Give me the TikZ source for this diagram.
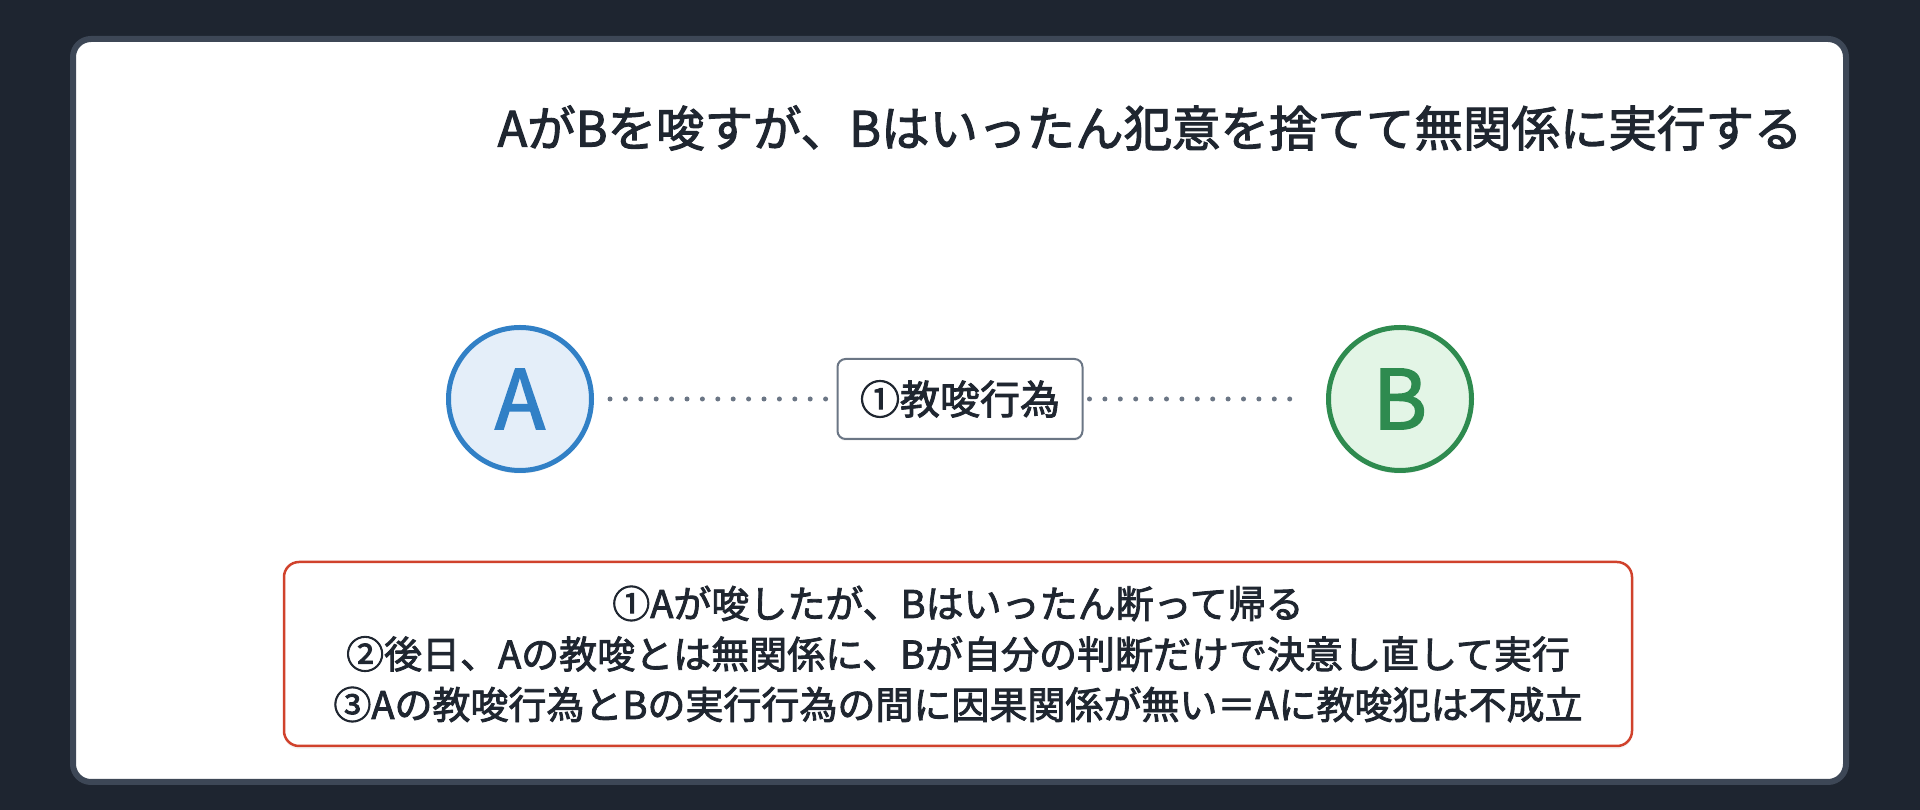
\documentclass[tikz,border=0pt]{standalone}
\usepackage{fontspec}
\setmainfont{Noto Sans CJK JP}[FakeBold=2.2]
\usetikzlibrary{positioning,calc,shadows}
\definecolor{bgdark}{HTML}{1E2530}
\definecolor{cardline}{HTML}{3D4756}
\definecolor{textdark}{HTML}{1F2630}
\definecolor{blueA}{HTML}{3180C6}
\definecolor{blueAfill}{HTML}{E4EEF9}
\definecolor{greenB}{HTML}{2E8B4F}
\definecolor{greenBfill}{HTML}{E3F5E6}
\definecolor{linkgray}{HTML}{6B7685}
\definecolor{notered}{HTML}{D0422C}
\tikzset{
  person/.style={circle,line width=5pt,minimum size=143pt,inner sep=0pt,
    font=\fontsize{82}{82}\selectfont,
    drop shadow={opacity=0.12,shadow xshift=0pt,shadow yshift=-3pt}},
  actbox/.style={rectangle,rounded corners=8pt,draw=linkgray,fill=white,line width=2pt,
    minimum width=245pt,minimum height=80pt,inner sep=0pt,text=textdark,
    font=\fontsize{40}{40}\selectfont,
    drop shadow={opacity=0.08,shadow xshift=0pt,shadow yshift=-2pt}},
  notebox/.style={rectangle,rounded corners=15pt,draw=notered,fill=white,line width=2.5pt,
    minimum width=1348pt,minimum height=184pt,inner sep=0pt,align=center,text=textdark,
    font=\fontsize{38}{50.5}\selectfont,
    drop shadow={opacity=0.08,shadow xshift=0pt,shadow yshift=-3pt}},
  dotlink/.style={draw=linkgray,line width=5pt,line cap=round,dash pattern=on 0pt off 15.4pt}
}
\begin{document}
\begin{tikzpicture}[x=1pt,y=1pt]
  \useasboundingbox (0,0) rectangle (1920,810);
  \fill[bgdark] (0,0) rectangle (1920,810);
  \draw[cardline,fill=white,line width=6pt,rounded corners=18pt] (73,28) rectangle (1846,771);
  % title
  \node[anchor=east,text=textdark,font=\fontsize{48.5}{48.5}\selectfont] (title) at (1806,682)
    {AがBを唆すが、Bはいったん犯意を捨てて無関係に実行する};
  % the two persons
  \node[person,draw=blueA,fill=blueAfill,text=blueA] (A) at (520,411) {A};
  \node[person,draw=greenB,fill=greenBfill,text=greenB,right=732pt of A] (B) {B};
  \node[actbox] (act) at ($(A)!0.5!(B)$) {①教唆行為};
  \draw[dotlink,shorten <=16pt] (A) -- (act);
  \draw[dotlink,shorten <=6pt,shorten >=24pt] (act) -- (B);
  % explanation
  \node[notebox] (note) at (958,156)
    {①Aが唆したが、Bはいったん断って帰る\\
     ②後日、Aの教唆とは無関係に、Bが自分の判断だけで決意し直して実行\\
     ③Aの教唆行為とBの実行行為の間に因果関係が無い＝Aに教唆犯は不成立};
\end{tikzpicture}
\end{document}
